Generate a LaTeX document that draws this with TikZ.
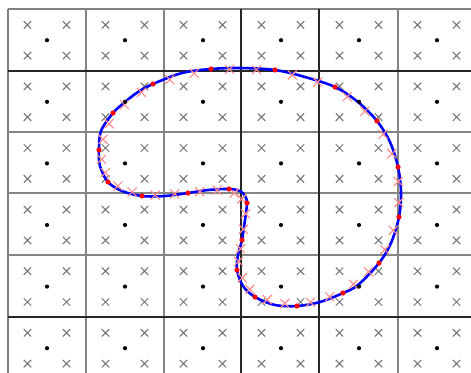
\documentclass[tikz,border=0pt]{standalone}
\usetikzlibrary{calc}
\begin{document}
\begin{tikzpicture}[x=1pt,y=-1pt,
  gridgray/.style={draw=black!48,line width=2.6pt},
  gridblack/.style={draw=black!85,line width=1.2pt},
  edgeline/.style={draw=black!50,line width=1.4pt},
  qcross/.style={draw=black!55,line width=1pt},
  rcross/.style={draw=red!45,line width=1.1pt},
  cdot/.style={fill=black},
  rdot/.style={fill=red},
  bcurve/.style={draw=blue,line width=2.6pt}]
\useasboundingbox (0,0) rectangle (471,372);
\fill[white] (0,0) rectangle (471,372);
% grid
\draw[edgeline] (8,9) -- (480,9);
\draw[edgeline] (8,9) -- (8,380);
\foreach \x in {86,164,398} \draw[gridgray] (\x,9) -- (\x,380);
\foreach \y in {132,193,255} \draw[gridgray] (8,\y) -- (480,\y);
\foreach \x in {241,319} \draw[gridblack] (\x,9) -- (\x,380);
\foreach \y in {71,317} \draw[gridblack] (8,\y) -- (480,\y);
% quadrature crosses
\foreach \i in {0,...,5} {
  \foreach \j in {0,...,5} {
    \pgfmathsetmacro\cx{47+78*\i}
    \pgfmathsetmacro\cy{40.2+61.6*\j}
    \foreach \sx in {-19.5,19.5} {
      \foreach \sy in {-15.4,15.4} {
        \draw[qcross] (\cx+\sx-3.7,\cy+\sy-3.7) -- (\cx+\sx+3.7,\cy+\sy+3.7)
                      (\cx+\sx-3.7,\cy+\sy+3.7) -- (\cx+\sx+3.7,\cy+\sy-3.7);
      }
    }
  }
}
% boundary dots
\coordinate (d1) at (211,69);
\coordinate (d2) at (275,70);
\coordinate (d3) at (335,87);
\coordinate (d4) at (377,121);
\coordinate (d5) at (398,167);
\coordinate (d6) at (399,217);
\coordinate (d7) at (379,263);
\coordinate (d8) at (343,293);
\coordinate (d9) at (297,306);
\coordinate (d10) at (255,297);
\coordinate (d11) at (237,270);
\coordinate (d12) at (242,240);
\coordinate (d13) at (247,203);
\coordinate (d14) at (229,189);
\coordinate (d15) at (188,193);
\coordinate (d16) at (142,196);
\coordinate (d17) at (108,182);
\coordinate (d18) at (99,150);
\coordinate (d19) at (113,113);
\coordinate (d20) at (153,84);
% curve
\draw[bcurve] plot[smooth cycle, tension=0.55] coordinates {
  (211,69) (240,68) (275,70) (305,77) (335,87) (358,102) (377,121) (390,142)
  (398,167) (401,192) (399,217) (391,243) (379,263) (358,285) (343,293)
  (320,302) (297,306) (275,305) (255,297) (243,286) (237,270) (238,255)
  (242,240) (245,220) (247,203) (245,196) (240,191) (229,189) (208,190)
  (188,193) (165,196) (142,196) (122,191) (108,182) (100,166) (99,150)
  (101,131) (113,113) (125,102) (138,92) (153,84) (182,73)};
% red crosses
\foreach \i in {1,...,20} {
  \pgfmathtruncatemacro\nx{mod(\i,20)+1}
  \pgfmathtruncatemacro\pv{mod(\i+18,20)+1}
  \foreach \n in {\nx,\pv} {
    \path ($(d\i)!0.289!(d\n)$) coordinate (rc);
    \draw[rcross] ([shift={(-4.5,-4.5)}]rc) -- ([shift={(4.5,4.5)}]rc)
                  ([shift={(-4.5,4.5)}]rc) -- ([shift={(4.5,-4.5)}]rc);
  }
}
% red dots
\foreach \i in {1,...,20} \fill[rdot] (d\i) circle (2.6);
% cell centres
\foreach \i in {0,...,5} {
  \foreach \j in {0,...,5} {
    \pgfmathsetmacro\cx{47+78*\i}
    \pgfmathsetmacro\cy{40.2+61.6*\j}
    \fill[cdot] (\cx,\cy) circle (2.1);
  }
}
\end{tikzpicture}
\end{document}
